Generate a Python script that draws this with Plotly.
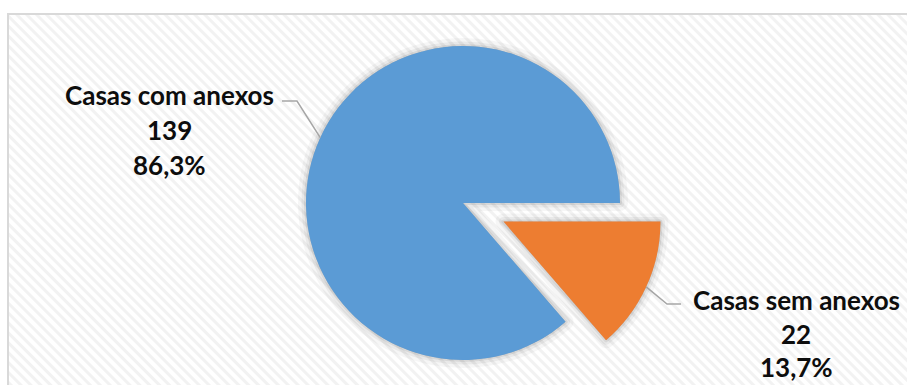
import base64
import math

import plotly.graph_objects as go

# ---- data -------------------------------------------------------------
categories = ["Casas com anexos", "Casas sem anexos"]
counts = [139, 22]
slice_colors = ["#5B9BD5", "#ED7D31"]

# ---- canvas / geometry ------------------------------------------------
W, H = 907, 385
R = 157             # pie radius (px)
CX, CY = 463, 203   # centre of the main pie (px, from top-left)
EXPLODE = 44.5      # how far the small slice is pushed out (px)

total = sum(counts)
shares = [c / total for c in counts]

# Slices run clockwise; the small slice begins at 3 o'clock (90 deg).
rotation = 90.0 + 360.0 * shares[1]
mid_angles = [
    rotation + 180.0 * shares[0],
    rotation + 360.0 * shares[0] + 180.0 * shares[1],
]


def polar(cx, cy, r, ang_deg):
    a = math.radians(ang_deg)
    return cx + r * math.sin(a), cy - r * math.cos(a)


# centre of the exploded slice
ex_cx, ex_cy = polar(CX, CY, EXPLODE, mid_angles[1])
centres = [(CX, CY), (ex_cx, ex_cy)]


def domain(cx, cy, r):
    return dict(x=[(cx - r) / W, (cx + r) / W],
                y=[(H - cy - r) / H, (H - cy + r) / H])


def px(x, y):
    return x / W, 1 - y / H


CLEAR = "rgba(0,0,0,0)"
fig = go.Figure()

# soft drop shadow behind each piece
for idx, (cx, cy) in enumerate(centres):
    for width, alpha in [(16, 0.035), (9, 0.05), (4, 0.07)]:
        col = [CLEAR, CLEAR]
        col[idx] = f"rgba(0,0,0,{alpha})"
        fig.add_trace(go.Pie(
            labels=categories, values=counts, sort=False,
            direction="clockwise", rotation=rotation,
            marker=dict(colors=col, line=dict(color=col, width=width)),
            textinfo="none", hoverinfo="skip", showlegend=False,
            domain=domain(cx, cy, R),
        ))

# the two pieces of the pie
for idx, (cx, cy) in enumerate(centres):
    col = [CLEAR, CLEAR]
    col[idx] = slice_colors[idx]
    fig.add_trace(go.Pie(
        labels=categories, values=counts, sort=False,
        direction="clockwise", rotation=rotation,
        marker=dict(colors=col, line=dict(width=0)),
        textinfo="none", hoverinfo="label+value+percent", showlegend=False,
        domain=domain(cx, cy, R),
    ))

# ---- data labels with leader lines -----------------------------------
label_blocks = [
    dict(x=169, y=95, gap=35, elbow=(297, 101), end=(282, 101)),
    dict(x=796, y=300, gap=33.5, elbow=(667, 304), end=(681, 304)),
]
font = dict(family="Lato", size=26, color="#0d0d0d", weight="bold")

annotations = []
shapes = []
for i, blk in enumerate(label_blocks):
    pct = f"{shares[i] * 100:.1f}".replace(".", ",") + "%"
    for k, txt in enumerate([categories[i], str(counts[i]), pct]):
        xx, yy = px(blk["x"], blk["y"] + k * blk["gap"])
        annotations.append(dict(
            x=xx, y=yy, xref="paper", yref="paper", text=txt,
            showarrow=False, xanchor="center", yanchor="middle", font=font,
        ))
    cx, cy = centres[i]
    sx, sy = polar(cx, cy, R, mid_angles[i])
    pts = [(sx, sy), blk["elbow"], blk["end"]]
    path = "M " + " L ".join(f"{px(a, b)[0]},{px(a, b)[1]}" for a, b in pts)
    shapes.append(dict(type="path", path=path, xref="paper", yref="paper",
                       line=dict(color="#A6A6A6", width=1.5)))

# chart-area frame
fx0, fy0 = px(8, 14)
fx1, fy1 = px(920, 400)
shapes.append(dict(type="rect", xref="paper", yref="paper",
                   x0=fx0, y0=fy1, x1=fx1, y1=fy0,
                   line=dict(color="#D9D9D9", width=2), layer="below"))

# faint diagonal hatching inside the frame
svg = (
    f'<svg xmlns="http://www.w3.org/2000/svg" width="{W}" height="{H}">'
    '<defs><pattern id="p" width="7" height="7" patternUnits="userSpaceOnUse" '
    'patternTransform="rotate(-45)">'
    '<rect width="7" height="7" fill="#ffffff"/>'
    '<rect width="3" height="7" fill="#f2f2f2"/>'
    '</pattern></defs>'
    f'<rect x="9" y="15" width="{W}" height="{H}" fill="url(#p)"/></svg>'
)
bg_src = "data:image/svg+xml;base64," + base64.b64encode(svg.encode()).decode()

fig.update_layout(
    width=W, height=H,
    margin=dict(l=0, r=0, t=0, b=0),
    paper_bgcolor="#ffffff",
    plot_bgcolor="#ffffff",
    annotations=annotations,
    shapes=shapes,
    images=[dict(source=bg_src, xref="paper", yref="paper", x=0, y=1,
                 sizex=1, sizey=1, xanchor="left", yanchor="top",
                 sizing="stretch", layer="below")],
)

fig.write_html("out.html")
